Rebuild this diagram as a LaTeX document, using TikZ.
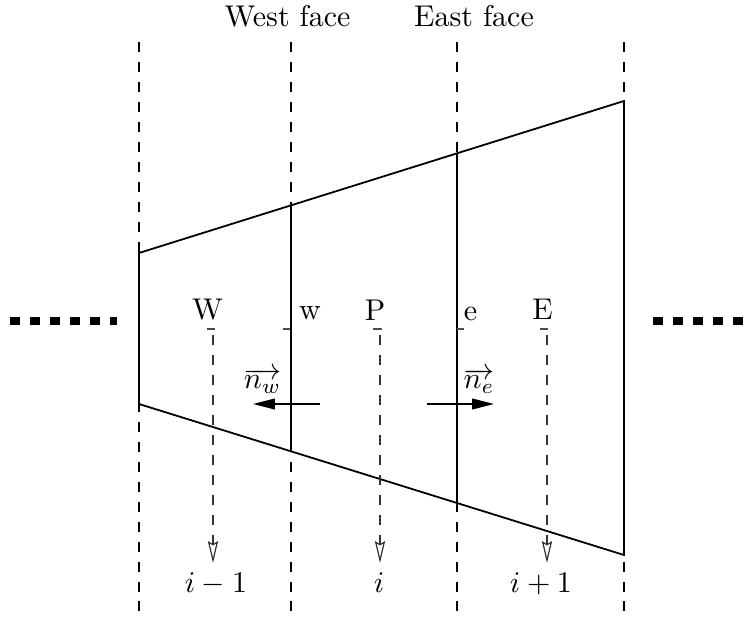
\documentclass[tikz,border=0pt]{standalone}
\usetikzlibrary{arrows.meta}
\begin{document}
\begin{tikzpicture}[x=0.3333pt,y=-0.3333pt,
  gridline/.style={line width=0.6pt,dash pattern=on 3.33pt off 3.33pt},
  solidline/.style={line width=0.6pt},
  tickmark/.style={line width=0.4pt,black!70},
  downarrow/.style={line width=0.4pt,black!80,dash pattern=on 3.33pt off 3.33pt,-{Stealth[open,length=7.3pt,width=3.4pt,inset=1pt]}},
  normalarrow/.style={line width=0.45pt,-{Triangle[length=7.3pt,width=3.6pt]}},
  dots/.style={line width=2.7pt,dash pattern=on 3.33pt off 3.33pt},
  lbl/.style={inner sep=0pt,anchor=base}]
\useasboundingbox (0,0) rectangle (754,619);
% grid coordinates
\coordinate (g1t) at (139,42); \coordinate (g1b) at (139,617);
\coordinate (g2t) at (291,42); \coordinate (g2b) at (291,617);
\coordinate (g3t) at (457,42); \coordinate (g3b) at (457,617);
\coordinate (g4t) at (624,42); \coordinate (g4b) at (624,617);
\draw[gridline] (g1t) -- (g1b);
\draw[gridline] (g2t) -- (g2b);
\draw[gridline] (g3t) -- (g3b);
\draw[gridline] (g4t) -- (g4b);
% trapezoid
\coordinate (tl) at (139,253); \coordinate (tr) at (624,101);
\coordinate (bl) at (139,404); \coordinate (br) at (624,555);
\draw[solidline] (tl) -- (tr) -- (br) -- (bl) -- cycle;
\coordinate (wt) at (291,205.4); \coordinate (wb) at (291,451.6);
\coordinate (et) at (457,153.3); \coordinate (eb) at (457,503.7);
\draw[solidline] (wt) -- (wb);
\draw[solidline] (et) -- (eb);
% face titles
\node[lbl] (westface) at (287.5,27) {West face};
\node[lbl] (eastface) at (474,27) {East face};
% node letters
\node[lbl] (W) at (207.5,320) {W};
\node[lbl] (w) at (310,320) {w};
\node[lbl] (P) at (375,320.5) {P};
\node[lbl] (e) at (470.5,320.5) {e};
\node[lbl] (E) at (542.5,320) {E};
% ticks
\draw[tickmark] (207,329) -- (215,329);
\draw[tickmark] (283,329) -- (290,329);
\draw[tickmark] (373,329) -- (382,329);
\draw[tickmark] (457,329) -- (464,329);
\draw[tickmark] (540,329) -- (548,329);
% index labels
\node[lbl] (im1) at (216,592) {$i-1$};
\node[lbl] (i0) at (379,592) {$i$};
\node[lbl] (ip1) at (541,592) {$i+1$};
\coordinate (aW1) at (213,335); \coordinate (aW2) at (213,563);
\coordinate (aP1) at (380,335); \coordinate (aP2) at (380,563);
\coordinate (aE1) at (547,335); \coordinate (aE2) at (547,563);
\draw[downarrow] (aW1) -- (aW2);
\draw[downarrow] (aP1) -- (aP2);
\draw[downarrow] (aE1) -- (aE2);
% normals
\coordinate (nw1) at (320,404); \coordinate (nw2) at (253,404);
\coordinate (ne1) at (427,404); \coordinate (ne2) at (494,404);
\draw[normalarrow] (nw1) -- (nw2);
\draw[normalarrow] (ne1) -- (ne2);
\node[lbl] (nwlabel) at (262.5,389) {$\overrightarrow{n_w}$};
\node[lbl] (nelabel) at (479,389) {$\overrightarrow{n_e}$};
% continuation dots
\coordinate (dl1) at (10,321); \coordinate (dl2) at (117,321);
\coordinate (dr1) at (653,321); \coordinate (dr2) at (744,321);
\draw[dots] (dl1) -- (dl2);
\draw[dots] (dr1) -- (dr2);
\end{tikzpicture}
\end{document}
